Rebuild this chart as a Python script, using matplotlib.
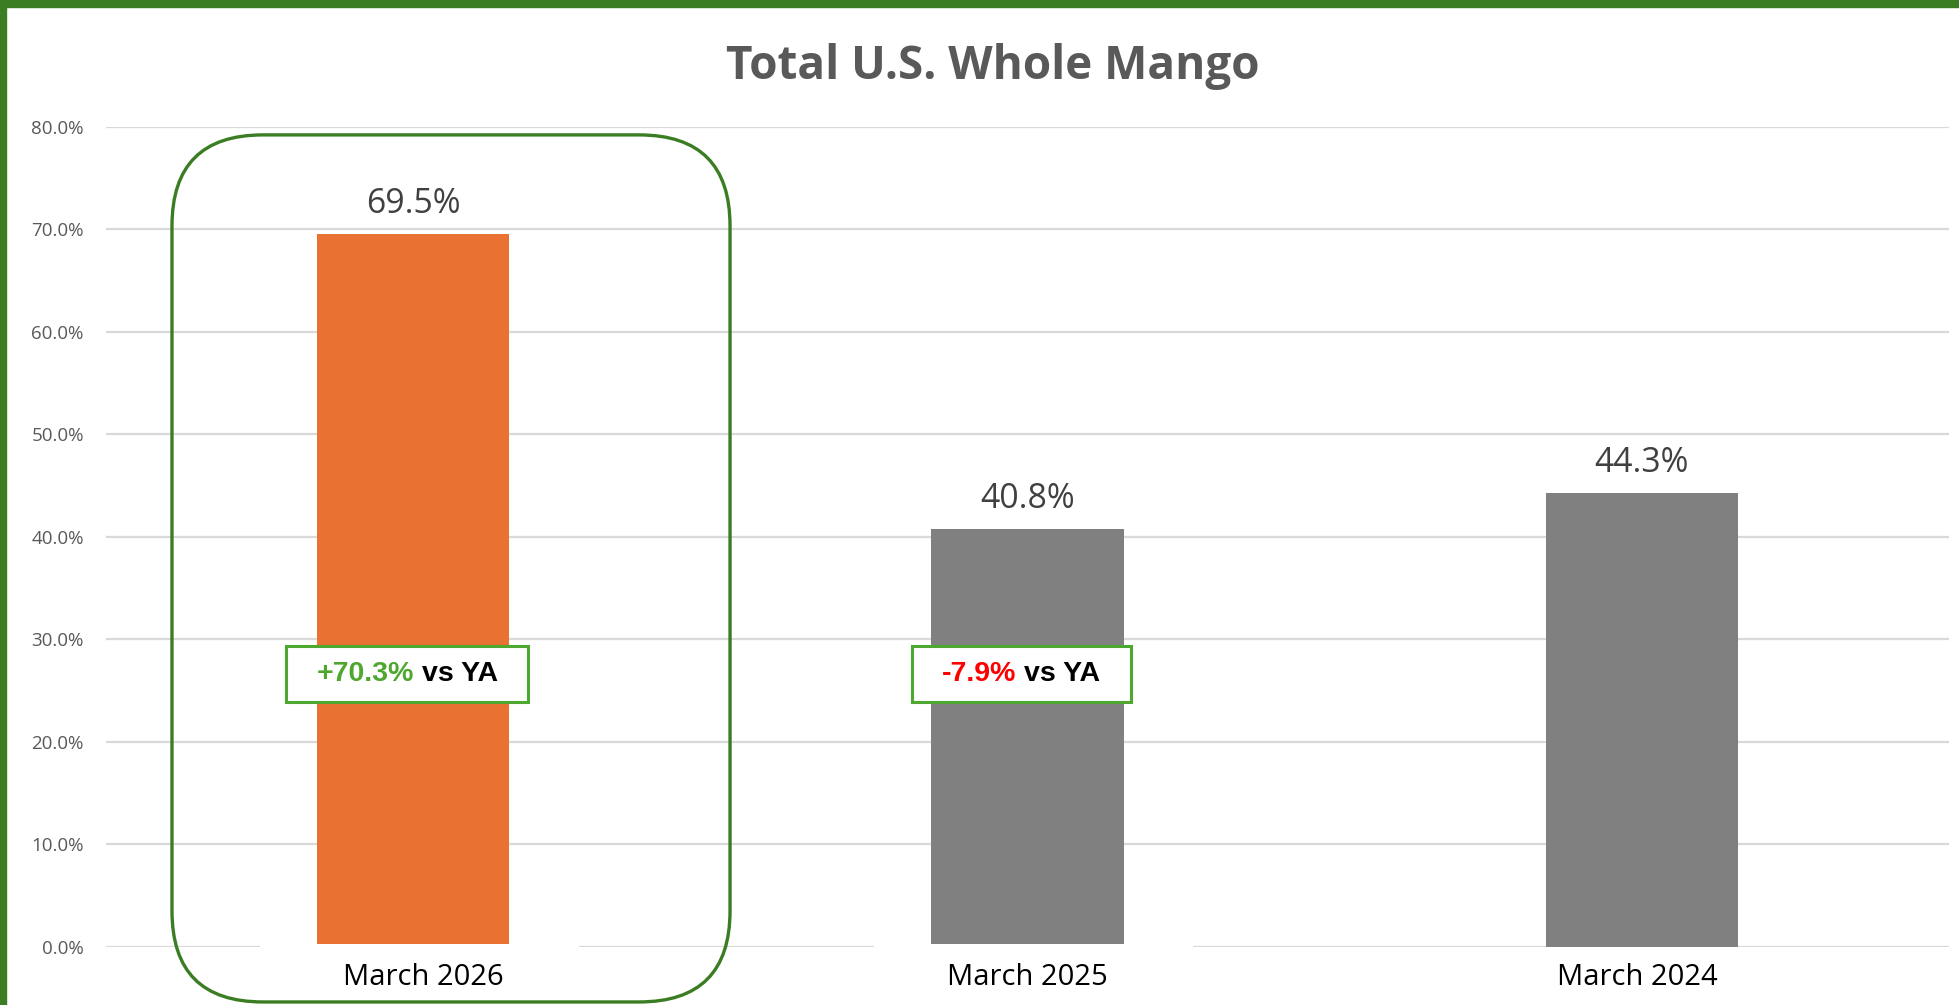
import matplotlib
matplotlib.use("Agg")
import matplotlib.pyplot as plt
import matplotlib.transforms as mtransforms
from matplotlib.patches import Rectangle, FancyBboxPatch
from matplotlib.offsetbox import TextArea, HPacker, DrawingArea, AnnotationBbox
from matplotlib.ticker import PercentFormatter

# data
periods = ["March 2026", "March 2025", "March 2024"]
share = [0.695, 0.408, 0.443]
vs_ya = [0.703, -0.079, None]          # change vs year ago, last one has no callout
bar_colors = ["#e97132", "#808080", "#808080"]
yticks = [0.0, 0.1, 0.2, 0.3, 0.4, 0.5, 0.6, 0.7, 0.8]

plt.rcParams['font.family'] = ['Open Sans', 'DejaVu Sans']

W, H = 1959, 1005
fig = plt.figure(figsize=(W / 100, H / 100), dpi=100)
ax = fig.add_axes([106 / W, 1 - 946.7 / H, (1949 - 106) / W, 820 / H])

xs = list(range(len(periods)))
ax.bar(xs, share, width=0.313, color=bar_colors, zorder=2)
ax.set_xlim(-0.5, 2.5)
ax.set_ylim(0, 0.8)
ax.set_yticks(yticks)
ax.yaxis.set_major_formatter(PercentFormatter(1.0, decimals=1))
ax.tick_params(axis='y', length=0, pad=16, labelsize=13.5, labelcolor='#595959')
ax.set_xticks([])
for s in ax.spines.values():
    s.set_visible(False)
ax.yaxis.grid(True, color='#d9d9d9', lw=1.6)
ax.set_axisbelow(True)

# value labels
for i, v in enumerate(share):
    ax.annotate(f"{v:.1%}", (i, v), xytext=(0, 15), textcoords='offset points',
                ha='center', va='baseline', fontsize=24.3, color='#404040')

# category labels (first two sit on white boxes that break the baseline grid)
trans = mtransforms.blended_transform_factory(ax.transData, ax.transAxes)
nudge = [7.5, 0, -3]   # small hand-placed shifts in points, as in the original
for i, p in enumerate(periods):
    if i < 2:
        ax.add_patch(Rectangle((i - 0.25, -0.075), 0.52, 0.078, transform=trans,
                               facecolor='white', edgecolor='none', clip_on=False, zorder=3))
    ax.annotate(p, (i, -(985 - 946.7) / 820), xycoords=trans, xytext=(nudge[i], 0),
                textcoords='offset points', ha='center', va='baseline',
                fontsize=21, color='black', zorder=5, annotation_clip=False)

# highlight around the current period
hl = FancyBboxPatch((-0.3926, -0.0674), 0.9084, 1.0574,
                    boxstyle="round,pad=0,rounding_size=0.148", mutation_aspect=0.75,
                    transform=trans, fill=False, edgecolor='#3b7d23', lw=2.4,
                    clip_on=False, zorder=6)
ax.add_patch(hl)

# "vs YA" callouts
for i, d in enumerate(vs_ya):
    if d is None:
        continue
    col = '#4ea72e' if d > 0 else '#ff0000'
    tp = dict(fontsize=20.5, fontweight='bold', family='Liberation Sans')
    pack = HPacker(children=[DrawingArea(16, 40.3),
                             TextArea(f"{d:+.1%}", textprops=dict(color=col, **tp)),
                             TextArea("vs YA", textprops=dict(color='black', **tp)),
                             DrawingArea(16, 40.3)],
                   align='center', pad=0, sep=5.7)
    ab = AnnotationBbox(pack, (i - 0.01, 0.266), xycoords='data', box_alignment=(0.5, 0.5),
                        pad=0, frameon=True,
                        bboxprops=dict(edgecolor='#4ea72e', lw=2.2, facecolor='white'),
                        zorder=7)
    ax.add_artist(ab)

fig.text(993 / W, 1 - 79 / H, "Total U.S. Whole Mango", ha='center', va='baseline',
         fontsize=33, fontweight='bold', color='#595959')

# green frame along top and left edge
fig.add_artist(Rectangle((0, 1 - 7 / H), 1, 7 / H, transform=fig.transFigure,
                         color='#3b7d23', zorder=10))
fig.add_artist(Rectangle((0, 0), 6 / W, 1, transform=fig.transFigure,
                         color='#3b7d23', zorder=10))

fig.savefig('out.png', dpi=100)
